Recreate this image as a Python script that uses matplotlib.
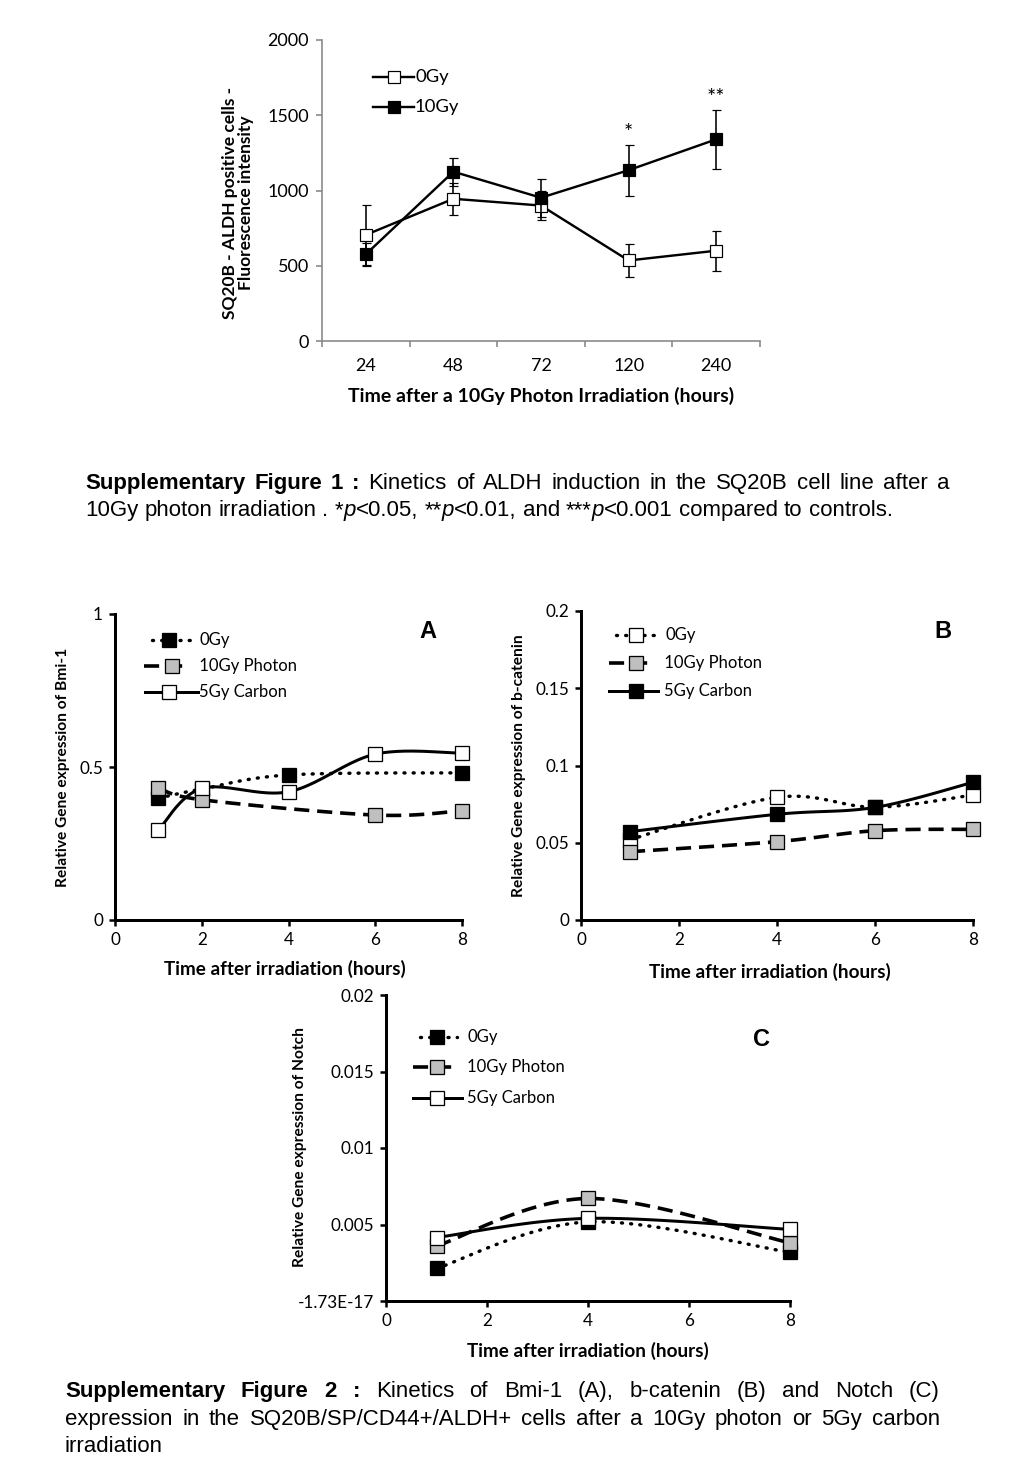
import numpy as np
import matplotlib
matplotlib.use("Agg")
import matplotlib.pyplot as plt
from matplotlib import transforms

W, H = 1024, 1479
DPI = 100

# ---------------- data ----------------
# Supplementary Figure 1
fig1_times = ["24", "48", "72", "120", "240"]
fig1_0gy = [705, 945, 900, 535, 600]
fig1_0gy_err = [200, 105, 96, 108, 133]
fig1_10gy = [576, 1125, 952, 1135, 1340]
fig1_10gy_err = [75, 93, 127, 170, 197]
fig1_stars = ["", "", "", "*", "**"]

# Panel A (Bmi-1)
A_0gy_x = [1, 2, 4, 8]
A_0gy_y = [0.398, 0.428, 0.474, 0.481]
A_10gy_x = [1, 2, 6, 8]
A_10gy_y = [0.432, 0.393, 0.343, 0.357]
A_5gy_x = [1, 2, 4, 6, 8]
A_5gy_y = [0.294, 0.430, 0.419, 0.542, 0.545]

# Panel B (b-catenin)
B_0gy_x = [1, 4, 6, 8]
B_0gy_y = [0.052, 0.0794, 0.073, 0.0809]
B_10gy_x = [1, 4, 6, 8]
B_10gy_y = [0.0442, 0.0507, 0.0578, 0.0587]
B_5gy_x = [1, 4, 6, 8]
B_5gy_y = [0.0572, 0.0684, 0.0729, 0.0891]

# Panel C (Notch)
C_x = [1, 4, 8]
C_0gy_y = [0.00213, 0.00517, 0.00318]
C_10gy_y = [0.00359, 0.0067, 0.0038]
C_5gy_y = [0.00415, 0.0054, 0.00468]

# ---------------- style ----------------
CHART_FONT = ["Lato", "DejaVu Sans"]
CAP_FONT = ["Liberation Sans", "DejaVu Sans"]
GRAY = "#bfbfbf"
AXGRAY = "#868686"

plt.rcParams["font.family"] = CHART_FONT

fig = plt.figure(figsize=(W / DPI, H / DPI), dpi=DPI)
PIX = transforms.Affine2D().scale(1, -1).translate(0, H)  # pixel coords, origin top-left


def px(v):
    return v * 72.0 / DPI


def ax_px(l, t, r, b):
    return fig.add_axes([l / W, 1 - b / H, (r - l) / W, (b - t) / H])


def smooth_xy(ax, xs, ys, n=40):
    x0, x1 = ax.get_xlim()
    y0, y1 = ax.get_ylim()
    bb = ax.get_position()
    aw, ah = bb.width * W, bb.height * H
    P = np.array([[(x - x0) / (x1 - x0) * aw, (y - y0) / (y1 - y0) * ah] for x, y in zip(xs, ys)])
    out = []
    m = len(P)
    for i in range(m - 1):
        p0 = P[i - 1] if i > 0 else P[i]
        p1, p2 = P[i], P[i + 1]
        p3 = P[i + 2] if i + 2 < m else P[i + 1]
        c1 = p1 + (p2 - p0) / 6.0
        c2 = p2 - (p3 - p1) / 6.0
        t = np.linspace(0, 1, n)[:, None]
        seg = (1 - t) ** 3 * p1 + 3 * (1 - t) ** 2 * t * c1 + 3 * (1 - t) * t ** 2 * c2 + t ** 3 * p2
        out.append(seg if i == 0 else seg[1:])
    S = np.vstack(out)
    return S[:, 0] / aw * (x1 - x0) + x0, S[:, 1] / ah * (y1 - y0) + y0


LW = px(3.0)
STYLES = {
    "dot": dict(linestyle=(0, (0.3, 2.4)), dash_capstyle="round", lw=px(3.4)),
    "dash": dict(linestyle=(0, (4.2, 2.2)), dash_capstyle="butt", lw=px(3.6)),
    "solid": dict(linestyle="-", lw=LW),
}

TICK_SIZE = 12.3
LEG_SIZE = 12
XLAB_SIZE = 13.6
YLAB_SIZE = 11.2


def series(ax, xs, ys, style, fc, z):
    sx, sy = smooth_xy(ax, xs, ys)
    ax.plot(sx, sy, color="black", zorder=z, clip_on=False, **STYLES[style])
    ax.plot(xs, ys, linestyle="none", marker="s", ms=px(14), mfc=fc, mec="black",
            mew=px(1.3), zorder=z + 0.5, clip_on=False)


def legend_row(x0, x1, xm, y, style, fc, label, tx, ms=14, size=LEG_SIZE):
    fig.add_artist(plt.Line2D([x0, x1], [y, y], transform=PIX, color="black", **STYLES[style]))
    fig.add_artist(plt.Line2D([xm], [y], transform=PIX, marker="s", ms=px(ms), mfc=fc,
                              mec="black", mew=px(1.3), linestyle="none"))
    fig.text(tx, y, label, transform=PIX, fontsize=size, va="center", ha="left")


def style_panel(ax, xlim, ylim, yticks, yticklabels=None):
    ax.set_xlim(*xlim)
    ax.set_ylim(*ylim)
    for s in ["top", "right"]:
        ax.spines[s].set_visible(False)
    for s in ["left", "bottom"]:
        ax.spines[s].set_linewidth(px(3))
        ax.spines[s].set_color("black")
    ax.set_xticks([0, 2, 4, 6, 8])
    ax.set_yticks(yticks)
    if yticklabels is not None:
        ax.set_yticklabels(yticklabels)
    ax.tick_params(direction="out", length=px(6), width=px(2.5), labelsize=TICK_SIZE, pad=px(6))


# ---------------- Figure 1 ----------------
ax1 = ax_px(322, 40, 760, 341)
xpos = np.arange(len(fig1_times))
ax1.set_xlim(-0.5, len(fig1_times) - 0.5)
ax1.set_ylim(0, 2000)
ax1.errorbar(xpos, fig1_0gy, yerr=fig1_0gy_err, color="black", lw=px(2.4), capsize=px(4.5),
             capthick=px(1.6), elinewidth=px(1.6), marker="s", ms=px(11.5), mfc="white",
             mec="black", mew=px(1.2), zorder=3, clip_on=False)
ax1.errorbar(xpos, fig1_10gy, yerr=fig1_10gy_err, color="black", lw=px(2.4), capsize=px(4.5),
             capthick=px(1.6), elinewidth=px(1.6), marker="s", ms=px(11.5), mfc="black",
             mec="black", mew=px(1.2), zorder=4, clip_on=False)
for xi, yv, e, s in zip(xpos, fig1_10gy, fig1_10gy_err, fig1_stars):
    if s:
        ax1.annotate(s, (xi, yv + e), xytext=(0, px(2)), textcoords="offset points",
                     ha="center", va="bottom", fontsize=15.5)
for s in ["top", "right"]:
    ax1.spines[s].set_visible(False)
for s in ["left", "bottom"]:
    ax1.spines[s].set_color(AXGRAY)
    ax1.spines[s].set_linewidth(px(1.6))
ax1.set_yticks([0, 500, 1000, 1500, 2000])
ax1.set_xticks(xpos)
ax1.set_xticklabels(fig1_times)
ax1.set_xticks(np.arange(-0.5, len(fig1_times)), minor=True)
ax1.tick_params(axis="x", which="major", length=0, labelsize=13, pad=px(17))
ax1.tick_params(axis="x", which="minor", direction="out", length=px(6), width=px(1.6), color=AXGRAY)
ax1.tick_params(axis="y", direction="out", length=px(6), width=px(1.6), color=AXGRAY,
                labelsize=13, pad=px(7))
fig.text(238, 203, "SQ20B - ALDH positive cells -\nFluorescence intensity", transform=PIX,
         rotation=90, ha="center", va="center", fontsize=12.5, fontweight="bold", linespacing=1.05)
fig.text(541, 396, "Time after a 10Gy Photon Irradiation (hours)", transform=PIX,
         ha="center", va="center", fontsize=14, fontweight="bold")

for y, fc, lab in [(77, "white", "0Gy"), (107, "black", "10Gy")]:
    fig.add_artist(plt.Line2D([373, 414], [y, y], transform=PIX, color="black", lw=px(2.4)))
    fig.add_artist(plt.Line2D([394], [y], transform=PIX, marker="s", ms=px(11.5), mfc=fc,
                              mec="black", mew=px(1.2), linestyle="none"))
    fig.text(415, y, lab, transform=PIX, fontsize=13.3, va="center", ha="left")

# ---------------- Panel A ----------------
axA = ax_px(115, 614, 462, 920)
style_panel(axA, (0, 8), (0, 1), [0, 0.5, 1], ["0", "0.5", "1"])
series(axA, A_0gy_x, A_0gy_y, "dot", "black", 3)
series(axA, A_10gy_x, A_10gy_y, "dash", GRAY, 4)
series(axA, A_5gy_x, A_5gy_y, "solid", "white", 5)
fig.text(63, 767, "Relative Gene expression of Bmi-1", transform=PIX, rotation=90,
         ha="center", va="center", fontsize=YLAB_SIZE, fontweight="bold")
fig.text(285, 969, "Time after irradiation (hours)", transform=PIX, ha="center",
         va="center", fontsize=XLAB_SIZE, fontweight="bold")
fig.text(428, 632, "A", transform=PIX, ha="center", va="center", fontsize=17,
         fontweight="bold", family=CAP_FONT)
legend_row(152, 196, 169, 640, "dot", "black", "0Gy", 199)
legend_row(144, 187, 172, 666, "dash", GRAY, " 10Gy Photon", 195)
legend_row(145, 198, 169, 692, "solid", "white", "5Gy Carbon", 199)

# ---------------- Panel B ----------------
axB = ax_px(581, 611, 973, 920)
style_panel(axB, (0, 8), (0, 0.2), [0, 0.05, 0.1, 0.15, 0.2], ["0", "0.05", "0.1", "0.15", "0.2"])
series(axB, B_0gy_x, B_0gy_y, "dot", "white", 3)
series(axB, B_10gy_x, B_10gy_y, "dash", GRAY, 4)
series(axB, B_5gy_x, B_5gy_y, "solid", "black", 5)
fig.text(519, 766, "Relative Gene expression of b-catenin", transform=PIX, rotation=90,
         ha="center", va="center", fontsize=YLAB_SIZE, fontweight="bold")
fig.text(770, 972, "Time after irradiation (hours)", transform=PIX, ha="center",
         va="center", fontsize=XLAB_SIZE, fontweight="bold")
fig.text(943, 631, "B", transform=PIX, ha="center", va="center", fontsize=17,
         fontweight="bold", family=CAP_FONT)
legend_row(616, 660, 636, 635, "dot", "white", "0Gy", 666)
legend_row(609, 650, 636, 663, "dash", GRAY, " 10Gy Photon", 660)
legend_row(609, 658, 636, 691, "solid", "black", "5Gy Carbon", 664)

# ---------------- Panel C ----------------
axC = ax_px(386, 995, 790, 1301)
style_panel(axC, (0, 8), (0, 0.02), [0, 0.005, 0.01, 0.015, 0.02],
            ["-1.73E-17", "0.005", "0.01", "0.015", "0.02"])
series(axC, C_x, C_0gy_y, "dot", "black", 3)
series(axC, C_x, C_10gy_y, "dash", GRAY, 4)
series(axC, C_x, C_5gy_y, "solid", "white", 5)
fig.text(300, 1147, "Relative Gene expression of Notch", transform=PIX, rotation=90,
         ha="center", va="center", fontsize=YLAB_SIZE, fontweight="bold")
fig.text(588, 1351, "Time after irradiation (hours)", transform=PIX, ha="center",
         va="center", fontsize=XLAB_SIZE, fontweight="bold")
fig.text(761, 1040, "C", transform=PIX, ha="center", va="center", fontsize=17,
         fontweight="bold", family=CAP_FONT)
legend_row(420, 457, 437, 1037, "dot", "black", "0Gy", 467)
legend_row(413, 457, 437, 1067, "dash", GRAY, "10Gy Photon", 467)
legend_row(413, 462, 437, 1098, "solid", "white", "5Gy Carbon", 467)

# ---------------- captions ----------------
renderer = fig.canvas.get_renderer()
CAP_SIZE = 16


def caption_line(segments, x0, y, width=None):
    words = []
    gaps = []
    for si, (text, weight, style) in enumerate(segments):
        parts = text.split(" ")
        for k, p in enumerate(parts):
            if p == "":
                continue
            if words:
                glued = (k == 0 and si > 0 and not text.startswith(" ")
                         and not segments[si - 1][0].endswith(" "))
                gaps.append(not glued)
            words.append((p, weight, style))
    arts = [fig.text(0, y, w[0], transform=PIX, fontsize=CAP_SIZE, fontweight=w[1],
                     fontstyle=w[2], family=CAP_FONT, va="baseline", ha="left") for w in words]
    widths = [a.get_window_extent(renderer).width for a in arts]
    sp = fig.text(0, 0, "a a", fontsize=CAP_SIZE, family=CAP_FONT)
    sp2 = fig.text(0, 0, "aa", fontsize=CAP_SIZE, family=CAP_FONT)
    space = sp.get_window_extent(renderer).width - sp2.get_window_extent(renderer).width
    sp.remove()
    sp2.remove()
    nsp = sum(gaps)
    total = sum(widths) + nsp * space
    s = space
    if width is not None and nsp > 0:
        s = space + (width - total) / nsp
    x = x0
    for i, a in enumerate(arts):
        if i > 0:
            x += s if gaps[i - 1] else 0
        a.set_x(x)
        x += widths[i]


N, B, I = "normal", "bold", "italic"
caption_line([("Supplementary Figure 1 :", B, N), (" Kinetics of ALDH induction in the SQ20B cell line after a", N, N)],
             85, 489, width=864)
caption_line([("10Gy photon irradiation . *", N, N), ("p", N, I), ("<0.05, **", N, N), ("p", N, I),
              ("<0.01, and ***", N, N), ("p", N, I), ("<0.001 compared to controls.", N, N)],
             85, 516)
caption_line([("Supplementary Figure 2 :", B, N), (" Kinetics of Bmi-1 (A), b-catenin (B) and Notch (C)", N, N)],
             65, 1397, width=875)
caption_line([("expression in the SQ20B/SP/CD44+/ALDH+ cells after a 10Gy photon or 5Gy carbon", N, N)],
             65, 1425, width=875)
caption_line([("irradiation", N, N)], 65, 1452)

fig.savefig("out.png", dpi=DPI)
